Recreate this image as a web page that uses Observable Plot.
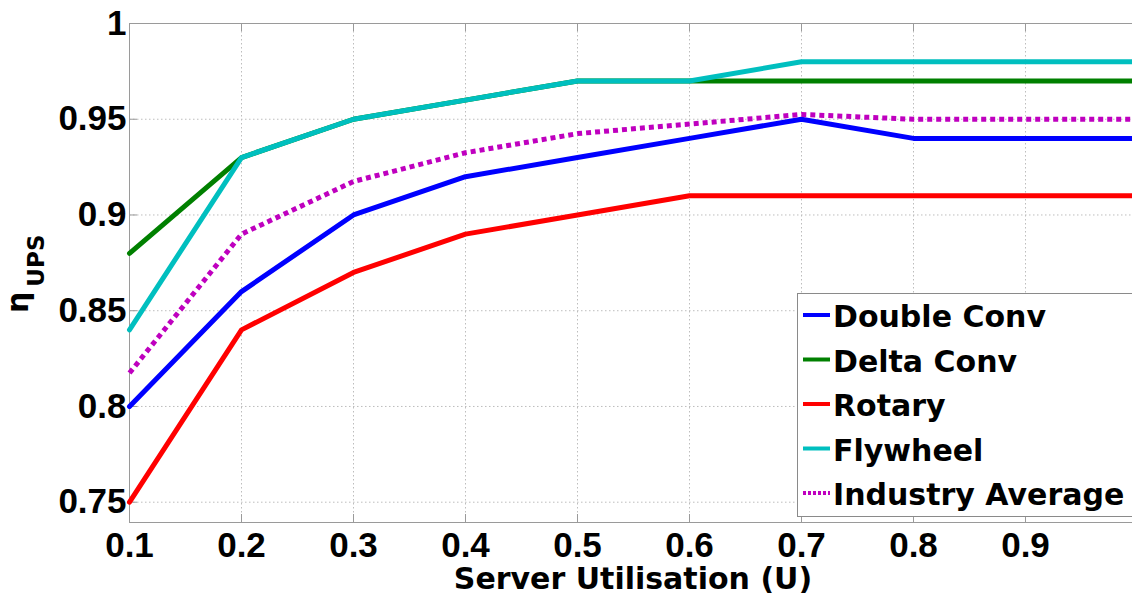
<!DOCTYPE html>
<html>
<head>
<meta charset="utf-8">
<script src="https://cdn.jsdelivr.net/npm/d3@7"></script>
<script src="https://cdn.jsdelivr.net/npm/@observablehq/plot@0.6"></script>
<style>
  html, body { margin: 0; padding: 0; background: #fff; }
  #chart { width: 1132px; height: 598px; overflow: hidden; }
</style>
</head>
<body>
<div id="chart"></div>
<script>
// ---- data ----
const utilisation = [0.1, 0.2, 0.3, 0.4, 0.5, 0.6, 0.7, 0.8, 0.9, 1.0];
const doubleConv  = [0.80, 0.86, 0.90, 0.92, 0.93, 0.94, 0.95, 0.94, 0.94, 0.94];
const deltaConv   = [0.88, 0.93, 0.95, 0.96, 0.97, 0.97, 0.97, 0.97, 0.97, 0.97];
const rotary      = [0.75, 0.84, 0.87, 0.89, 0.90, 0.91, 0.91, 0.91, 0.91, 0.91];
const flywheel    = [0.84, 0.93, 0.95, 0.96, 0.97, 0.97, 0.98, 0.98, 0.98, 0.98];
const industryAvg = [0.8175, 0.89, 0.9175, 0.9325, 0.9425, 0.9475, 0.9525, 0.95, 0.95, 0.95];

const seriesNames  = ["Double Conv", "Delta Conv", "Rotary", "Flywheel", "Industry Average"];
const seriesValues = [doubleConv, deltaConv, rotary, flywheel, industryAvg];
const seriesColors = ["#0000ff", "#008000", "#ff0000", "#00bfbf", "#bf00bf"];
const seriesDash   = [null, null, null, null, "5,4"];

const xTicks = [0.1, 0.2, 0.3, 0.4, 0.5, 0.6, 0.7, 0.8, 0.9, 1.0];
const xTickLabels = ["0.1", "0.2", "0.3", "0.4", "0.5", "0.6", "0.7", "0.8", "0.9", ""];
const yTicks = [0.75, 0.8, 0.85, 0.9, 0.95, 1];
const yTickLabels = ["0.75", "0.8", "0.85", "0.9", "0.95", "1"];

const xTitle = "Server Utilisation (U)";
const yTitleMain = "η";
const yTitleSub = "UPS";

// ---- layout ----
const W = 1132, H = 598;
const mL = 129, mR = -5, mT = 23, mB = 76;
const frameW = W - mL - mR, frameH = H - mT - mB;
const tickLen = 8;
const axisGrey = "#9a9a9a";

const tables = seriesNames.map((name, s) =>
  utilisation.map((u, i) => ({series: name, u, value: seriesValues[s][i]}))
);

const lineMarks = tables.map((rows, s) =>
  Plot.line(rows, {
    x: "u", y: "value",
    stroke: seriesColors[s],
    strokeWidth: 5,
    strokeDasharray: seriesDash[s],
    strokeLinecap: seriesDash[s] ? "butt" : "round",
    strokeLinejoin: "round"
  })
);

const chart = Plot.plot({
  width: W, height: H,
  marginLeft: mL, marginRight: mR, marginTop: mT, marginBottom: mB,
  style: {fontFamily: "'Liberation Sans', Arial, sans-serif", fontSize: "35px", fontWeight: "bold", color: "#000", background: "#fff"},
  x: {domain: [0.1, 1.0]},
  y: {domain: [0.7394, 1]},
  marks: [
    Plot.gridX(xTicks, {stroke: "#bdbdbd", strokeOpacity: 1, strokeDasharray: "1.5,2.5"}),
    Plot.gridY(yTicks, {stroke: "#bdbdbd", strokeOpacity: 1, strokeDasharray: "1.5,2.5"}),
    // inward ticks
    Plot.tickX(xTicks, {x: d => d, stroke: axisGrey, insetTop: frameH - tickLen}),
    Plot.tickX(xTicks, {x: d => d, stroke: axisGrey, insetBottom: frameH - tickLen}),
    Plot.tickY(yTicks, {y: d => d, stroke: axisGrey, insetRight: frameW - tickLen}),
    Plot.frame({stroke: axisGrey, strokeWidth: 1}),
    Plot.axisX(xTicks, {tickSize: 0, tickPadding: 10, tickFormat: (d, i) => xTickLabels[i], label: null}),
    Plot.axisY(yTicks, {tickSize: 0, tickPadding: 3, tickFormat: (d, i) => yTickLabels[i], label: null}),
    ...lineMarks
  ]
});

document.getElementById("chart").appendChild(chart);

const svg = d3.select(chart);

// x title
svg.append("text")
  .attr("x", mL + frameW / 2)
  .attr("y", 589)
  .attr("text-anchor", "middle")
  .attr("font-family", "'DejaVu Sans', sans-serif")
  .attr("font-weight", "bold")
  .attr("font-size", 30)
  .attr("fill", "#000")
  .text(xTitle);

// y title (eta with subscript)
const yt = svg.append("text")
  .attr("transform", "translate(28,313) rotate(-90)")
  .attr("text-anchor", "start")
  .attr("font-family", "'DejaVu Sans', sans-serif")
  .attr("font-weight", "bold")
  .attr("fill", "#000");
yt.append("tspan").attr("font-size", 30).text(yTitleMain);
yt.append("tspan").attr("font-size", 23).attr("dy", 16).attr("dx", 5).text(yTitleSub);

// legend
const lg = svg.append("g");
lg.append("rect")
  .attr("x", 797.5).attr("y", 293.5)
  .attr("width", 400).attr("height", 223)
  .attr("fill", "#ffffff").attr("stroke", "#8a8a8a").attr("stroke-width", 1);
seriesNames.forEach((name, i) => {
  const base = 327 + i * 44.5;
  lg.append("line")
    .attr("x1", 803).attr("x2", 830)
    .attr("y1", base - 12).attr("y2", base - 12)
    .attr("stroke", seriesColors[i])
    .attr("stroke-width", 4)
    .attr("stroke-dasharray", seriesDash[i] ? "3,2" : null);
  lg.append("text")
    .attr("x", 833).attr("y", base)
    .attr("text-anchor", "start")
    .attr("font-family", "'DejaVu Sans', sans-serif")
    .attr("font-weight", "bold")
    .attr("font-size", 30)
    .attr("fill", "#000")
    .text(name);
});
</script>
</body>
</html>
